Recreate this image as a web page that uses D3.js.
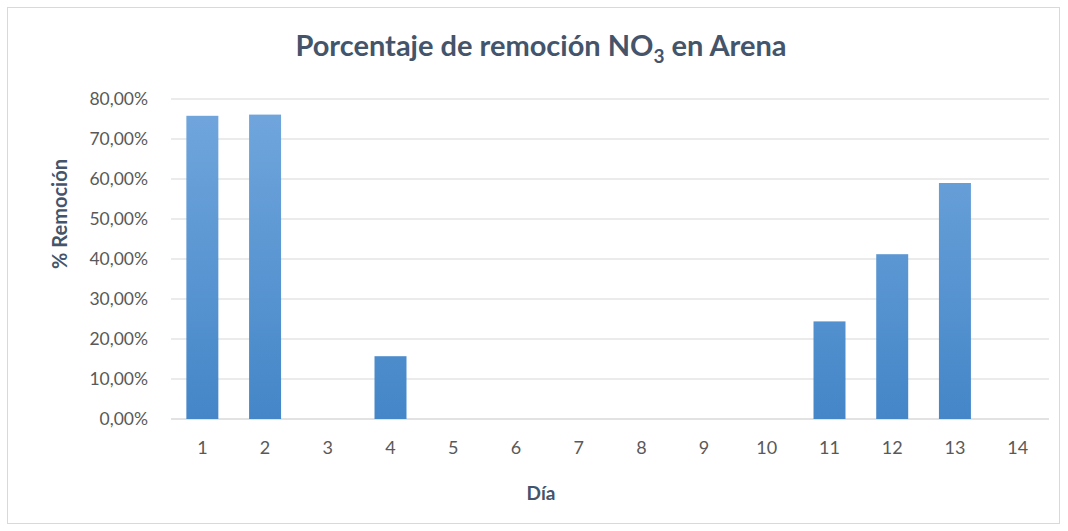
<!DOCTYPE html>
<html>
<head>
<meta charset="utf-8">
<script src="https://cdn.jsdelivr.net/npm/d3@7"></script>
<style>
  body { margin: 0; background: #fff; }
  text { font-family: Lato, "Open Sans", sans-serif; }
</style>
</head>
<body>
<svg id="chart" width="1068" height="531"></svg>
<script>
  var dias = ["1","2","3","4","5","6","7","8","9","10","11","12","13","14"];
  var remocion = [75.8, 76.1, 0, 15.7, 0, 0, 0, 0, 0, 0, 24.4, 41.2, 59.0, 0];
  var yTicks = [0, 10, 20, 30, 40, 50, 60, 70, 80];

  var svg = d3.select("#chart");
  var m = {left: 171, right: 1049, top: 99, bottom: 419};

  // outer chart border
  svg.append("rect").attr("x", 7.5).attr("y", 7.5)
     .attr("width", 1052).attr("height", 516)
     .attr("fill", "#fff").attr("stroke", "#d9d9d9");

  var x = d3.scaleBand().domain(dias).range([m.left, m.right])
            .paddingInner(0.49).paddingOuter(0.245);
  var y = d3.scaleLinear().domain([0, 80]).range([m.bottom, m.top]);

  var grad = svg.append("defs").append("linearGradient").attr("id", "barGrad")
      .attr("gradientUnits", "userSpaceOnUse")
      .attr("x1", 0).attr("y1", m.top).attr("x2", 0).attr("y2", m.bottom);
  grad.append("stop").attr("offset", "0%").attr("stop-color", "#72a7dd");
  grad.append("stop").attr("offset", "100%").attr("stop-color", "#4486c8");

  // gridlines
  svg.append("g").selectAll("line").data(yTicks).enter().append("line")
     .attr("x1", m.left).attr("x2", m.right)
     .attr("y1", (d) => y(d)).attr("y2", (d) => y(d))
     .attr("stroke", (d) => d == 0 ? "#d9d9d9" : "#e4e4e4")
     .attr("stroke-width", 1.3);

  // bars
  svg.append("g").selectAll("rect").data(remocion).enter().append("rect")
     .attr("x", (d, i) => x(dias[i]))
     .attr("width", x.bandwidth())
     .attr("y", (d) => y(d))
     .attr("height", (d) => y(0) - y(d))
     .attr("fill", "url(#barGrad)");

  // y axis labels
  var yAxis = d3.axisLeft(y).tickValues(yTicks).tickSize(0).tickPadding(23)
      .tickFormat((d) => d3.format(".2f")(d).replace(".", ",") + "%");
  var gy = svg.append("g").attr("transform", "translate(" + m.left + ",0)").call(yAxis);
  gy.select(".domain").remove();
  gy.selectAll("text").attr("fill", "#595959").style("font-size", "17.5px")
    .style("font-family", "Lato, 'Open Sans', sans-serif");

  // x axis labels
  var xAxis = d3.axisBottom(x).tickSize(0).tickPadding(22);
  var gx = svg.append("g").attr("transform", "translate(0," + m.bottom + ")").call(xAxis);
  gx.select(".domain").remove();
  gx.selectAll("text").attr("fill", "#595959").style("font-size", "18px")
    .style("font-family", "Lato, 'Open Sans', sans-serif");

  // title
  var title = svg.append("text").attr("x", 541).attr("y", 56)
     .attr("text-anchor", "middle").attr("fill", "#44546a")
     .style("font-size", "29px").style("font-weight", "bold");
  title.append("tspan").text("Porcentaje de remoción NO");
  title.append("tspan").text("3").attr("dy", 7).style("font-size", "19px");
  title.append("tspan").text(" en Arena").attr("dy", -7);

  // axis titles
  svg.append("text").attr("transform", "translate(67,214) rotate(-90)")
     .attr("text-anchor", "middle").attr("fill", "#44546a")
     .style("font-size", "20px").style("font-weight", "bold").text("% Remoción");
  svg.append("text").attr("x", 541).attr("y", 500)
     .attr("text-anchor", "middle").attr("fill", "#44546a")
     .style("font-size", "19px").style("font-weight", "bold").text("Día");
</script>
</body>
</html>
